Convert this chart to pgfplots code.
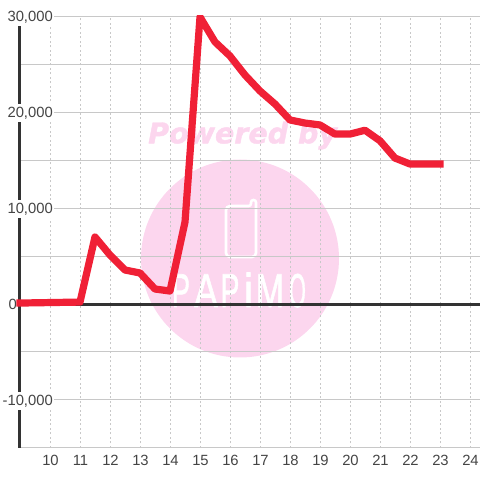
\documentclass[border=0pt]{standalone}
\usepackage{fontspec}
\setmainfont{Liberation Sans}
\newfontfamily\wm[BoldItalicFeatures={FakeBold=1.5}]{DejaVu Sans}
\newfontfamily\wml[FakeBold=1.5]{Liberation Sans}
\usepackage{pgfplots}
\pgfplotsset{compat=1.18}
\definecolor{wmpink}{HTML}{FCD6EE}
\definecolor{gridc}{HTML}{C8C8C8}
\definecolor{axisc}{HTML}{333333}
\definecolor{redc}{HTML}{F02036}
\definecolor{labc}{HTML}{444444}
\begin{document}
\begin{tikzpicture}[x=1pt,y=1pt]
\useasboundingbox (0,0) rectangle (480,480);
% watermark
\fill[wmpink] (240,221.5) circle (99);
\node[anchor=base west,inner sep=0,text=wmpink,font=\wm\bfseries\itshape\fontsize{28.5}{28.5}\selectfont] at (148,336.7) {Powered by};
\draw[white,line width=2.6,rounded corners=4] (238,274) -- (226,274) -- (226,223) -- (256,223) [rounded corners=2.4] -- (256,280) -- (251,280) -- (251,274) -- cycle;
\foreach \c/\px/\sx in {P/181/1.0,A/206/1.3,P/230/1.05,i/248.5/1.6,M/270/1.25,O/297.5/0.8}{
  \node[anchor=base,inner sep=0,text=white,xscale=\sx,yscale=1.76,font=\wml\fontsize{27}{27}\selectfont] at (\px,173) {\c};
}
% grid and axes
\begin{axis}[
  at={(20pt,32pt)},anchor=south west,scale only axis,
  width=460pt,height=432pt,
  xmin=9,xmax=24.3333,ymin=-15000,ymax=30000,
  axis x line*=bottom,axis y line*=left,
  axis line style={-},
  x axis line style={draw=gridc,line width=1pt},
  y axis line style={draw=axisc,line width=3pt},
  xtick={10,...,24},
  scaled y ticks=false,
  ytick={-10000,10000,20000,30000},
  yticklabels={-10{,}000,10{,}000,20{,}000,30{,}000},
  minor ytick={-5000,5000,15000,25000},
  extra y ticks={0},
  extra y tick labels={0},
  extra y tick style={yticklabel style={xshift=-36pt,fill=none,text=labc}},
  tick style={draw=none},
  minor tick style={draw=none},
  xmajorgrids,ymajorgrids,yminorgrids,
  x grid style={draw=gridc,line width=0.9pt,dash pattern=on 2pt off 2.5pt},
  y grid style={draw=gridc,line width=1pt},
  minor y grid style={draw=gridc,line width=1pt},
  tick label style={font=\fontsize{14.8}{15}\selectfont,text=labc},
  yticklabel style={anchor=east,xshift=34pt,yshift=-1pt,fill=white,inner xsep=1pt,inner ysep=2.5pt,text height=10.5pt,text depth=2pt},
  xticklabel style={yshift=-4pt,xshift=0.5pt},
  /pgf/number format/assume math mode=true,
  clip=false,
]
\addplot[draw=axisc,line width=3pt,forget plot] coordinates {(9,0) (24.3333,0)};
\end{axis}
% data line
\begin{axis}[
  at={(10pt,32pt)},anchor=south west,scale only axis,
  width=470pt,height=432pt,
  xmin=8.6667,xmax=24.3333,ymin=-15000,ymax=30000,
  hide axis,
]
\addplot[draw=redc,line width=7.2pt,line join=round,line cap=rect] coordinates {
(9,100) (11,200) (11.5,6980) (12,5100) (12.5,3540) (13,3230) (13.5,1560) (14,1350)
(14.5,8540) (15,29900) (15.5,27300) (16,25830) (16.5,23850) (17,22190) (17.5,20830)
(18,19170) (18.5,18850) (19,18650) (19.5,17700) (20,17700) (20.5,18100) (21,17000)
(21.5,15200) (22,14580) (22.5,14580) (23,14580)};
\end{axis}
\end{tikzpicture}
\end{document}
